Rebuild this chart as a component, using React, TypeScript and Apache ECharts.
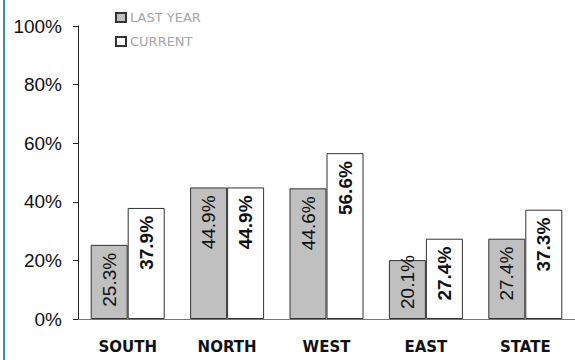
import React, { useEffect, useRef } from "react";
import * as echarts from "echarts";

const categories = ["SOUTH", "NORTH", "WEST", "EAST", "STATE"];
const lastYear = [25.3, 44.9, 44.6, 20.1, 27.4];
const current = [37.9, 44.9, 56.6, 27.4, 37.3];
const yTicks = [0, 20, 40, 60, 80, 100];
const seriesNames = ["LAST YEAR", "CURRENT"];

export default function App() {
  const ref = useRef<HTMLDivElement>(null);
  useEffect(() => {
    if (!ref.current) return;
    const chart = echarts.init(ref.current, null, { renderer: "svg" });
    const fmt = (p: any) => Number(p.value).toFixed(1) + "%";
    const baseLabel = {
      show: true,
      rotate: 90,
      position: "insideTop",
      align: "right",
      verticalAlign: "middle",
      distance: 8,
      formatter: fmt,
      fontFamily: "Liberation Sans, Arial, sans-serif",
      fontSize: 19,
      color: "#111",
    };
    // label that would overflow a short bar is pinned to the bar bottom instead
    const lastYearData = lastYear.map((v, i) =>
      i === 3
        ? {
            value: v,
            label: { position: "insideBottom", align: "left", distance: 10 },
          }
        : v
    );
    chart.setOption({
      animation: false,
      graphic: [
        {
          type: "rect",
          shape: { x: 3, y: 0, width: 2, height: 360 },
          style: { fill: "#3a9494" },
          silent: true,
        },
      ],
      legend: {
        orient: "vertical",
        left: 115,
        top: 11,
        padding: 0,
        itemWidth: 10,
        itemHeight: 9,
        itemGap: 11,
        icon: "rect",
        data: seriesNames,
        textStyle: {
          fontFamily: "DejaVu Sans, sans-serif",
          fontSize: 13,
          lineHeight: 13,
          color: "#a6a6a6",
          padding: [0, 0, 0, -1],
        },
      },
      grid: { left: 78, top: 26, width: 501, height: 293 },
      xAxis: {
        type: "category",
        data: categories,
        axisLine: { show: true, lineStyle: { color: "#777", width: 1 } },
        axisTick: { show: false },
        axisLabel: {
          margin: 20,
          fontFamily: "DejaVu Sans, sans-serif",
          fontWeight: "bold",
          fontSize: 15,
          color: "#111",
        },
      },
      yAxis: {
        type: "value",
        min: yTicks[0],
        max: yTicks[yTicks.length - 1],
        interval: yTicks[1] - yTicks[0],
        splitLine: { show: false },
        axisLine: { show: true, lineStyle: { color: "#222", width: 1 } },
        axisTick: { show: true, length: 5, lineStyle: { color: "#222" } },
        axisLabel: {
          margin: 16,
          formatter: (v: number) => v + "%",
          fontFamily: "Liberation Sans, Arial, sans-serif",
          fontSize: 19,
          color: "#111",
        },
      },
      series: [
        {
          name: seriesNames[0],
          type: "bar",
          data: lastYearData,
          barWidth: 37,
          barGap: "0%",
          itemStyle: { color: "#c0c0c0", borderColor: "#333", borderWidth: 1 },
          label: { ...baseLabel, fontWeight: "normal" },
        },
        {
          name: seriesNames[1],
          type: "bar",
          data: current,
          barWidth: 37,
          barGap: "0%",
          itemStyle: { color: "#ffffff", borderColor: "#333", borderWidth: 1 },
          label: { ...baseLabel, fontWeight: "bold" },
        },
      ],
    });
    return () => chart.dispose();
  }, []);
  return (
    <div
      ref={ref}
      style={{ position: "fixed", left: 0, top: 0, width: 575, height: 360, background: "#fff" }}
    />
  );
}
